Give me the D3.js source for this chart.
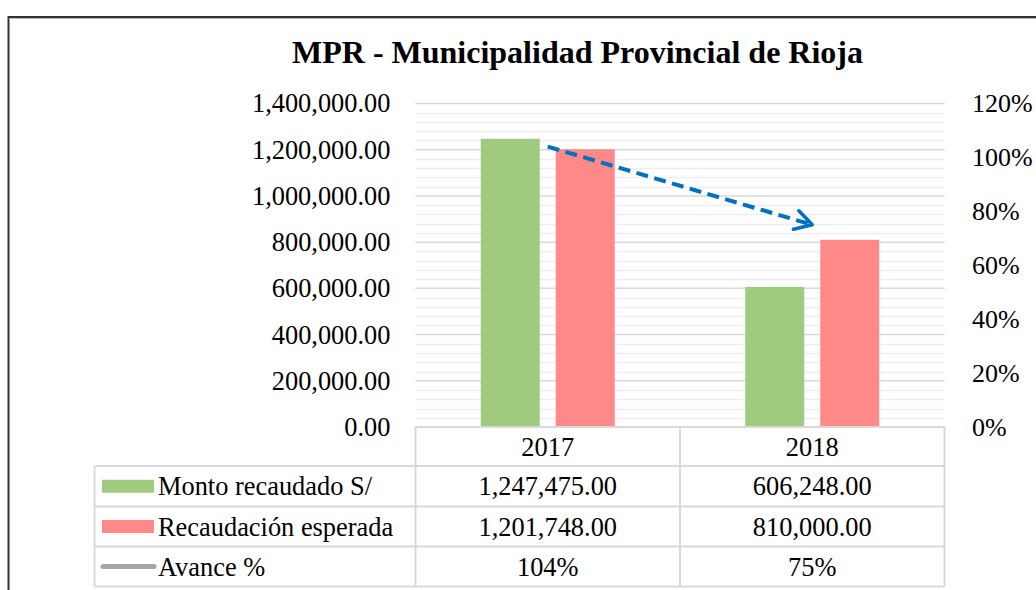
<!DOCTYPE html>
<html><head><meta charset="utf-8">
<script src="https://cdn.jsdelivr.net/npm/d3@7"></script>
<style>body{margin:0;background:#fff}svg{display:block}</style>
</head><body>
<svg id="c" width="1036" height="590" style="font-family:'Liberation Serif','DejaVu Serif',serif"></svg>
<script>
const title = "MPR - Municipalidad Provincial de Rioja";
const categories = ["2017", "2018"];
const seriesNames = ["Monto recaudado S/", "Recaudación esperada", "Avance %"];
const montoRecaudado = [1247475.00, 606248.00];
const recaudacionEsperada = [1201748.00, 810000.00];
const avance = [1.04, 0.75];
const leftTicks = [0, 200000, 400000, 600000, 800000, 1000000, 1200000, 1400000];
const rightTicks = [0, 0.2, 0.4, 0.6, 0.8, 1.0, 1.2];
const colors = ["#A0CB7F", "#FF8989", "#A6A6A6"];
const FONT = "'Liberation Serif','DejaVu Serif',serif";
const FS = 26.4;

const svg = d3.select("#c");
const L = 415.5, R = 944.5, T = 103.5, B = 427;

// outer frame
svg.append("rect").attr("x", 8.5).attr("y", 17).attr("width", 1100).attr("height", 700)
  .attr("fill", "none").attr("stroke", "#333").attr("stroke-width", 2);
svg.append("line").attr("x1", 9.5).attr("x2", 1036).attr("y1", 18.5).attr("y2", 18.5)
  .attr("stroke", "#bbb").attr("stroke-width", 1);

const x = d3.scaleBand().domain(categories).range([L, R]);
const y = d3.scaleLinear().domain([0, 1400000]).range([B, T]);
const yR = d3.scaleLinear().domain([0, 1.2]).range([B, T]);

// minor gridlines
const minor = d3.range(0, 1400001, 40000).filter(v => v % 200000 !== 0);
svg.append("g").selectAll("line").data(minor).join("line")
  .attr("x1", L).attr("x2", R).attr("y1", d => Math.round(y(d)) + 0.5).attr("y2", d => Math.round(y(d)) + 0.5)
  .attr("stroke", "#EEEEEE").attr("stroke-width", 1.5);
// major gridlines
svg.append("g").selectAll("line").data(leftTicks).join("line")
  .attr("x1", L).attr("x2", R).attr("y1", d => y(d)).attr("y2", d => y(d))
  .attr("stroke", "#D9D9D9").attr("stroke-width", 1.5);

// left axis
const gl = svg.append("g").attr("transform", `translate(${L},0)`)
  .call(d3.axisLeft(y).tickValues(leftTicks).tickFormat(d3.format(",.2f")).tickSize(0).tickPadding(25));
gl.attr("font-family", FONT).attr("font-size", FS);
gl.select(".domain").remove();
gl.selectAll("text").attr("fill", "#000");

// right axis
const gr = svg.append("g").attr("transform", `translate(${R},0)`)
  .call(d3.axisRight(yR).tickValues(rightTicks).tickFormat(d3.format(".0%")).tickSize(0).tickPadding(27.5));
gr.attr("font-family", FONT).attr("font-size", 26);
gr.select(".domain").remove();
gr.selectAll("text").attr("fill", "#000");

// bars
const bw = 59, gap = 16;
const series = [montoRecaudado, recaudacionEsperada];
series.forEach((vals, si) => {
  svg.append("g").selectAll("rect").data(categories).join("rect")
    .attr("x", (c) => x(c) + x.bandwidth() / 2 + (si === 0 ? -gap / 2 - bw : gap / 2))
    .attr("width", bw)
    .attr("y", (c, i) => y(vals[i]))
    .attr("height", (c, i) => B - y(vals[i]))
    .attr("fill", colors[si]);
});

// dashed arrow along Avance %
const defs = svg.append("defs");
defs.append("marker").attr("id", "ah").attr("viewBox", "0 0 10 10").attr("refX", 8.5).attr("refY", 5)
  .attr("markerWidth", 6).attr("markerHeight", 6).attr("orient", "auto").attr("markerUnits", "strokeWidth")
  .append("path").attr("d", "M1.5,1 L8.5,5 L1.5,9").attr("fill", "none").attr("stroke", "#0070C0")
  .attr("stroke-width", 1.5).attr("stroke-linecap", "round").attr("stroke-linejoin", "round");
const pts = categories.map((c, i) => [x(c) + x.bandwidth() / 2, yR(avance[i])]);
svg.append("path").attr("d", d3.line()(pts))
  .attr("fill", "none").attr("stroke", "#0070C0").attr("stroke-width", 4)
  .attr("stroke-dasharray", "12,6.5").attr("marker-end", "url(#ah)");

// title
svg.append("text").attr("x", 577.5).attr("y", 63).attr("text-anchor", "middle")
  .attr("font-size", 32).attr("font-weight", "bold").text(title);

// data table
const rowsY = [427, 466, 506.5, 546.5, 586.5];
const tableLeft = 94.5;
const tc = "#D9D9D9";
const tg = svg.append("g").attr("stroke", tc).attr("stroke-width", 2);
tg.append("line").attr("x1", L).attr("x2", R).attr("y1", rowsY[0]).attr("y2", rowsY[0]);
rowsY.slice(1).forEach(yy => tg.append("line").attr("x1", tableLeft).attr("x2", R).attr("y1", yy).attr("y2", yy));
tg.append("line").attr("x1", tableLeft).attr("x2", tableLeft).attr("y1", rowsY[1]).attr("y2", rowsY[4]);
[L, x("2018"), R].forEach(xx => tg.append("line").attr("x1", xx).attr("x2", xx).attr("y1", rowsY[0]).attr("y2", rowsY[4]));

svg.append("g").selectAll("text").data(categories).join("text")
  .attr("x", c => x(c) + x.bandwidth() / 2).attr("y", (rowsY[0] + rowsY[1]) / 2 + 9)
  .attr("text-anchor", "middle").attr("font-size", FS).text(c => c);

const fmtV = d3.format(",.2f");
const tableVals = [montoRecaudado.map(fmtV), recaudacionEsperada.map(fmtV), avance.map(d3.format(".0%"))];
seriesNames.forEach((name, ri) => {
  const cy = (rowsY[ri + 1] + rowsY[ri + 2]) / 2;
  if (ri < 2) {
    svg.append("rect").attr("x", 102).attr("y", cy - 6.5).attr("width", 52).attr("height", 13).attr("fill", colors[ri]);
  } else {
    svg.append("line").attr("x1", 103).attr("x2", 154).attr("y1", cy).attr("y2", cy)
      .attr("stroke", colors[2]).attr("stroke-width", 5).attr("stroke-linecap", "round");
  }
  svg.append("text").attr("x", 158).attr("y", cy + 9).attr("font-size", FS).text(name);
  categories.forEach((c, ci) => {
    svg.append("text").attr("x", x(c) + x.bandwidth() / 2).attr("y", cy + 9)
      .attr("text-anchor", "middle").attr("font-size", FS).text(tableVals[ri][ci]);
  });
});
</script>
</body></html>
